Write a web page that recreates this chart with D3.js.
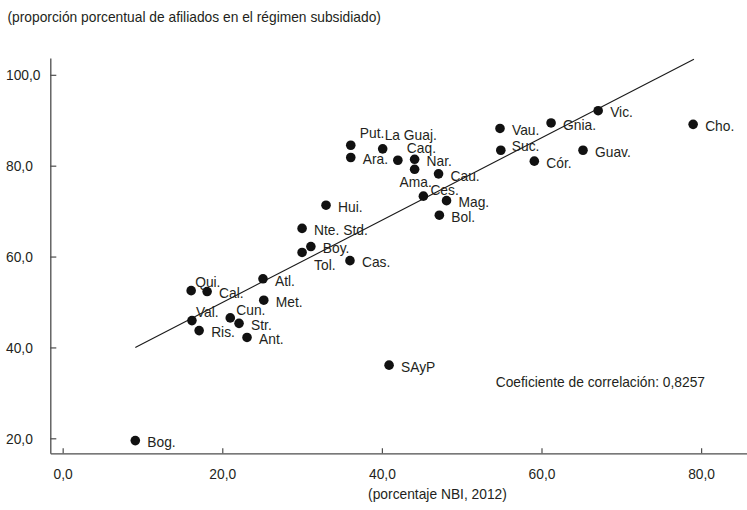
<!DOCTYPE html>
<html>
<head>
<meta charset="utf-8">
<script src="https://cdn.jsdelivr.net/npm/d3@7"></script>
<style>
  html, body { margin: 0; padding: 0; background: #fff; }
  svg { display: block; }
  text { font-family: "Liberation Sans Narrow", "Arial Narrow", "Liberation Sans", Arial, sans-serif; fill: #231f20; }
</style>
</head>
<body>
<svg id="chart" width="747" height="510"></svg>
<script>
// ---- data ----
const departments = ["Bog.","Qui.","Cal.","Val.","Ris.","Cun.","Str.","Ant.","Atl.","Met.",
  "Nte. Std.","Boy.","Tol.","Cas.","Hui.","Put.","Ara.","La Guaj.","Caq.","Nar.","Ama.",
  "Cau.","Ces.","Mag.","Bol.","Vau.","Suc.","Gnia.","Vic.","Cho.","Guav.","Cór.","SAyP"];
const nbi2012 = [9.1, 16.1, 18.1, 16.2, 17.1, 21.0, 22.1, 23.1, 25.1, 25.2,
  30.0, 31.1, 30.0, 36.0, 33.0, 36.1, 36.1, 40.1, 42.0, 44.1, 44.1,
  47.1, 45.2, 48.1, 47.2, 54.8, 54.9, 61.2, 67.1, 79.0, 65.2, 59.1, 40.9];
const subsidiado = [19.5, 52.5, 52.3, 45.9, 43.7, 46.5, 45.3, 42.2, 55.1, 50.4,
  66.2, 62.2, 60.9, 59.1, 71.3, 84.5, 81.8, 83.7, 81.2, 81.4, 79.2,
  78.2, 73.3, 72.3, 69.1, 88.2, 83.4, 89.4, 92.1, 89.1, 83.4, 81.0, 36.1];
const trendX = [9.1, 79.1];
const trendY = [40.0, 103.4];
const xTicks = [0, 20, 40, 60, 80];
const yTicks = [20, 40, 60, 80, 100];
const yTitle = "(proporción porcentual de afiliados en el régimen subsidiado)";
const xTitle = "(porcentaje NBI, 2012)";
const note = "Coeficiente de correlación: 0,8257";

// ---- label placement (layout only) ----
const labelOffsets = {
  "Qui.": [4, -9], "Val.": [4, -9], "Cun.": [6, -8], "Tol.": [12, 12],
  "Put.": [9, -12], "La Guaj.": [2, -14], "Caq.": [9, -12], "Ama.": [-15, 12],
  "Ces.": [7, -6], "Suc.": [11, -4]
};
const defaultOffset = [12, 1.5];

const svg = d3.select("#chart");
const fontSize = 15;
const condense = 0.92; // horizontal squeeze to mimic a condensed face

const x = d3.scaleLinear().domain([-1.55, 85.75]).range([50.3, 747]);
const y = d3.scaleLinear().domain([16.7, 103.7]).range([453.3, 58]);
const fmt = v => d3.format(".1f")(v).replace(".", ",");

// axes
const xAxis = d3.axisBottom(x).tickValues(xTicks).tickFormat(fmt)
  .tickSizeInner(-5).tickSizeOuter(0).tickPadding(14.7);
const gx = svg.append("g").attr("transform", `translate(0,${y.range()[0]})`).call(xAxis);
const yAxis = d3.axisLeft(y).tickValues(yTicks).tickFormat(fmt)
  .tickSizeInner(-6).tickSizeOuter(0).tickPadding(16);
const gy = svg.append("g").attr("transform", `translate(${x.range()[0]},0)`).call(yAxis);
gy.selectAll(".tick text").attr("text-anchor", "start").attr("x", 6 - x.range()[0]);
[gx, gy].forEach(g => {
  g.attr("font-family", null).attr("font-size", null);
  g.selectAll("path.domain").attr("stroke", "#4d4d4d").attr("stroke-width", 1.3);
  g.selectAll(".tick line").attr("stroke", "#4d4d4d").attr("stroke-width", 1.2);
  g.selectAll(".tick text").attr("font-size", fontSize).attr("fill", "#231f20");
});

// trend line
svg.append("line")
  .attr("x1", x(trendX[0])).attr("y1", y(trendY[0]))
  .attr("x2", x(trendX[1])).attr("y2", y(trendY[1]))
  .attr("stroke", "#1a1a1a").attr("stroke-width", 1.1);

// points
const pts = departments.map((d, i) => ({ name: d, x: nbi2012[i], y: subsidiado[i] }));
svg.append("g").selectAll("circle").data(pts).join("circle")
  .attr("cx", d => x(d.x)).attr("cy", d => y(d.y)).attr("r", 4.8)
  .attr("fill", "#111");

svg.append("g").selectAll("text").data(pts).join("text")
  .attr("x", d => x(d.x) + (labelOffsets[d.name] || defaultOffset)[0])
  .attr("y", d => y(d.y) + (labelOffsets[d.name] || defaultOffset)[1])
  .attr("dominant-baseline", "central")
  .attr("font-size", fontSize)
  .text(d => d.name);

// titles
svg.append("text").attr("x", 7.5).attr("y", 22.5).attr("font-size", fontSize).text(yTitle);
svg.append("text").attr("x", 437.5).attr("y", 499.5).attr("text-anchor", "middle")
  .attr("font-size", fontSize).text(xTitle);
svg.append("text").attr("x", 495.7).attr("y", 387.5).attr("font-size", fontSize).text(note);

// condense every text horizontally, keeping its anchor point in place
svg.selectAll("text").each(function () {
  const t = d3.select(this);
  const x0 = +t.attr("x") || 0;
  t.attr("x", x0 / condense).attr("transform", `scale(${condense},1)`);
});
</script>
</body>
</html>
